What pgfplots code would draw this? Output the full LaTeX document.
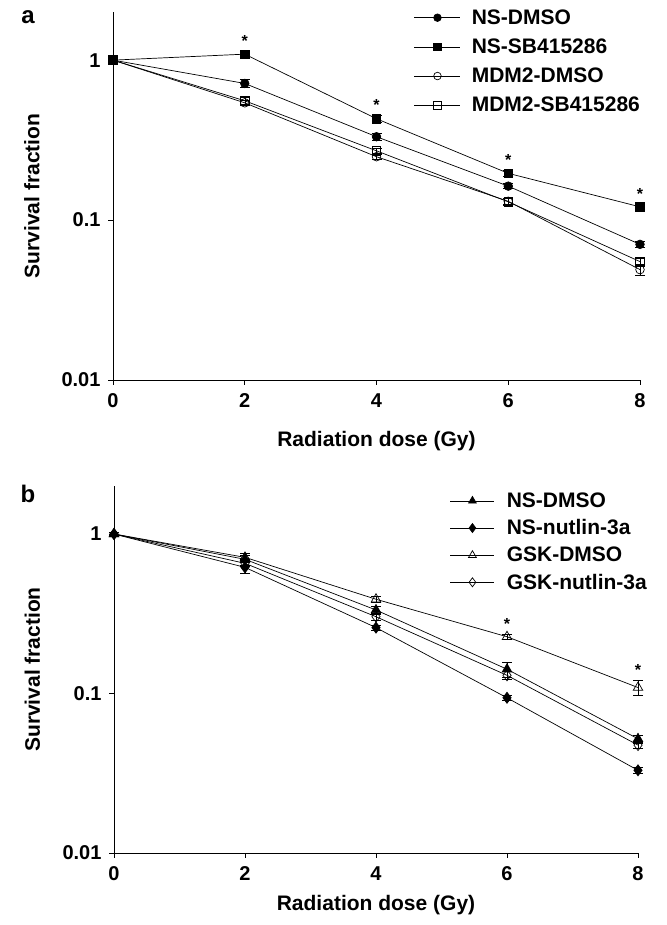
\documentclass[border=0pt]{standalone}
\usepackage{fontspec}
\setmainfont{Liberation Sans}
\usepackage{pgfplots}
\pgfplotsset{compat=1.18}
\newcommand{\bigf}{\bfseries\fontsize{21}{24}\selectfont}
\newcommand{\tickf}{\bfseries\fontsize{20}{22}\selectfont}
\newcommand{\starf}{\bfseries\fontsize{16}{16}\selectfont}
\pgfplotsset{
  every axis plot/.append style={line width=0.7pt, black},
}
\begin{document}
\begin{tikzpicture}
\path[use as bounding box] (0pt,0pt) rectangle (666pt,-925pt);
\node[font=\bfseries\fontsize{24}{24}\selectfont] at (28pt,-17pt) {a};
\node[font=\bfseries\fontsize{24}{24}\selectfont] at (28pt,-494pt) {b};

\begin{axis}[at={(113pt,-380pt)}, anchor=south west, width=527pt, height=368pt,
    scale only axis, ymode=log, xmin=0, xmax=8, ymin=0.01, ymax=2,
    axis x line=bottom, axis y line=left, axis line style={-, line width=0.8pt},
    xtick={0,2,4,6,8}, xticklabels={0,2,4,6,8},
    ytick={0.01,0.1,1}, yticklabels={0.01,0.1,1},
    yminorticks=false, tick align=outside, major tick length=5pt,
    tick style={line width=0.8pt, black},
    ticklabel style={font=\tickf},
    xticklabel style={yshift=-5pt}, yticklabel style={xshift=-4pt},
    label style={font=\bigf},
    xlabel={Radiation dose (Gy)}, ylabel={Survival fraction},
    clip=false,
    legend cell align=left,
    legend style={draw=none, fill=none, font=\bigf, inner sep=0pt, anchor=north west, row sep=13pt,
      nodes={inner sep=0pt}, /tikz/every odd column/.append style={column sep=11pt}},
    legend image code/.code={\draw[mark repeat=2,mark phase=2,#1,mark size=3.8pt] plot coordinates {(0pt,0pt) (23pt,0pt) (46pt,0pt)};},
  xlabel style={at={(axis description cs:0.5,-0.165)}, anchor=center},
  ylabel style={at={(axis description cs:-0.154,0.5)}, anchor=center},
  legend style={at={(axis description cs:0.571,1.007)}}]
\addplot[mark=*, mark options={fill=black}, mark size=4.3pt,
  error bars/.cd, y dir=both, y explicit, error mark options={rotate=90, mark size=5pt, line width=0.7pt}] coordinates {
 (0,1) +- (0,0.02) (2,0.715) +- (0,0.04) (4,0.332) +- (0,0.015) (6,0.163) +- (0,0.006) (8,0.0705) +- (0,0.003)};
\addlegendentry{NS-DMSO}
\addplot[mark=square*, mark options={fill=black}, mark size=4.3pt,
  error bars/.cd, y dir=both, y explicit, error mark options={rotate=90, mark size=5pt, line width=0.7pt}] coordinates {
 (0,1) +- (0,0.03) (2,1.09) +- (0,0.05) (4,0.43) +- (0,0.02) (6,0.196) +- (0,0.008) (8,0.121) +- (0,0.005)};
\addlegendentry{NS-SB415286}
\addplot[mark=o, mark options={fill=white}, mark size=4.3pt,
  error bars/.cd, y dir=both, y explicit, error mark options={rotate=90, mark size=5pt, line width=0.7pt}] coordinates {
 (0,1) +- (0,0.02) (2,0.541) +- (0,0.02) (4,0.249) +- (0,0.008) (6,0.131) +- (0,0.005) (8,0.049) +- (0,0.004)};
\addlegendentry{MDM2-DMSO}
\addplot[mark=square, mark options={fill=white}, mark size=4.3pt,
  error bars/.cd, y dir=both, y explicit, error mark options={rotate=90, mark size=5pt, line width=0.7pt}] coordinates {
 (0,1) +- (0,0.02) (2,0.557) +- (0,0.03) (4,0.271) +- (0,0.01) (6,0.130) +- (0,0.006) (8,0.055) +- (0,0.003)};
\addlegendentry{MDM2-SB415286}
\addplot[draw=none, mark=none, forget plot, nodes near coords={*},
  every node near coord/.append style={anchor=base, yshift=5pt, font=\starf}]
  coordinates {(2,1.14) (4,0.45) (6,0.204) (8,0.126)};
\end{axis}

\begin{axis}[at={(114pt,-853pt)}, anchor=south west, width=524pt, height=367pt,
    scale only axis, ymode=log, xmin=0, xmax=8, ymin=0.01, ymax=2,
    axis x line=bottom, axis y line=left, axis line style={-, line width=0.8pt},
    xtick={0,2,4,6,8}, xticklabels={0,2,4,6,8},
    ytick={0.01,0.1,1}, yticklabels={0.01,0.1,1},
    yminorticks=false, tick align=outside, major tick length=5pt,
    tick style={line width=0.8pt, black},
    ticklabel style={font=\tickf},
    xticklabel style={yshift=-5pt}, yticklabel style={xshift=-4pt},
    label style={font=\bigf},
    xlabel={Radiation dose (Gy)}, ylabel={Survival fraction},
    clip=false,
    legend cell align=left,
    legend style={draw=none, fill=none, font=\bigf, inner sep=0pt, anchor=north west, row sep=10.7pt,
      nodes={inner sep=0pt}, /tikz/every odd column/.append style={column sep=12pt}},
    legend image code/.code={\draw[mark repeat=2,mark phase=2,#1,mark size=4.5pt] plot coordinates {(0pt,0pt) (22pt,0pt) (44pt,0pt)};},
  xlabel style={at={(axis description cs:0.5,-0.142)}, anchor=center},
  ylabel style={at={(axis description cs:-0.156,0.5)}, anchor=center},
  legend style={at={(axis description cs:0.641,0.982)}}]
\addplot[mark=triangle*, mark options={fill=black}, mark size=5.5pt,
  error bars/.cd, y dir=both, y explicit, error mark options={rotate=90, mark size=5pt, line width=0.7pt}] coordinates {
 (0,1) +- (0,0.02) (2,0.694) +- (0,0.06) (4,0.334) +- (0,0.02) (6,0.142) +- (0,0.015) (8,0.052) +- (0,0.003)};
\addlegendentry{NS-DMSO}
\addplot[mark=diamond*, mark options={fill=black}, mark size=5.5pt,
  error bars/.cd, y dir=both, y explicit, error mark options={rotate=90, mark size=5pt, line width=0.7pt}] coordinates {
 (0,1) +- (0,0.02) (2,0.618) +- (0,0.05) (4,0.259) +- (0,0.01) (6,0.094) +- (0,0.004) (8,0.033) +- (0,0.0015)};
\addlegendentry{NS-nutlin-3a}
\addplot[mark=triangle, mark options={fill=white}, mark size=5.5pt,
  error bars/.cd, y dir=both, y explicit, error mark options={rotate=90, mark size=5pt, line width=0.7pt}] coordinates {
 (0,1) +- (0,0.02) (2,0.714) +- (0,0.02) (4,0.39) +- (0,0.015) (6,0.227) +- (0,0.008) (8,0.109) +- (0,0.012)};
\addlegendentry{GSK-DMSO}
\addplot[mark=diamond, mark options={fill=white}, mark size=5.5pt,
  error bars/.cd, y dir=both, y explicit, error mark options={rotate=90, mark size=5pt, line width=0.7pt}] coordinates {
 (0,1) +- (0,0.02) (2,0.655) +- (0,0.03) (4,0.303) +- (0,0.015) (6,0.13) +- (0,0.008) (8,0.0475) +- (0,0.002)};
\addlegendentry{GSK-nutlin-3a}
\addplot[draw=none, mark=none, forget plot, nodes near coords={*},
  every node near coord/.append style={anchor=base, yshift=5pt, font=\starf}]
  coordinates {(6,0.235) (8,0.121)};
\end{axis}
\end{tikzpicture}
\end{document}
